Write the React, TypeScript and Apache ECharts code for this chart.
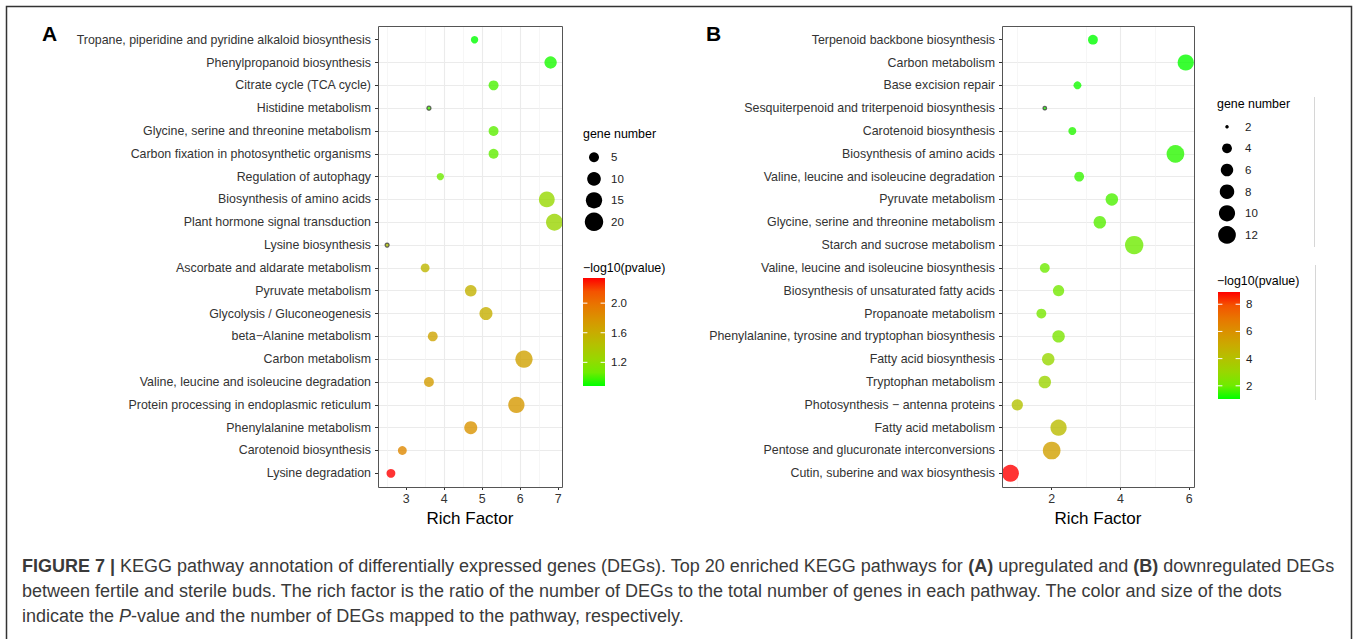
import React, { useEffect, useRef } from "react";
import * as echarts from "echarts";

const FONT = "'Liberation Sans', Arial, Helvetica, sans-serif";

// ---------- Panel A : upregulated DEGs ----------
const pathwaysA = [
  "Tropane, piperidine and pyridine alkaloid biosynthesis",
  "Phenylpropanoid biosynthesis",
  "Citrate cycle (TCA cycle)",
  "Histidine metabolism",
  "Glycine, serine and threonine metabolism",
  "Carbon fixation in photosynthetic organisms",
  "Regulation of autophagy",
  "Biosynthesis of amino acids",
  "Plant hormone signal transduction",
  "Lysine biosynthesis",
  "Ascorbate and aldarate metabolism",
  "Pyruvate metabolism",
  "Glycolysis / Gluconeogenesis",
  "beta\u2212Alanine metabolism",
  "Carbon metabolism",
  "Valine, leucine and isoleucine degradation",
  "Protein processing in endoplasmic reticulum",
  "Phenylalanine metabolism",
  "Carotenoid biosynthesis",
  "Lysine degradation",
];
const richFactorA = [4.8, 6.8, 5.3, 3.6, 5.3, 5.3, 3.9, 6.7, 6.9, 2.5, 3.5, 4.7, 5.1, 3.7, 6.1, 3.6, 5.9, 4.7, 2.9, 2.6];
const geneNumberA = [3, 8, 5, 2, 5, 5, 3, 14, 16, 2, 4, 7, 9, 5, 17, 5, 15, 9, 4, 4];
const negLog10PA = [0.88, 0.92, 1.0, 1.0, 1.03, 1.04, 1.06, 1.24, 1.26, 1.42, 1.52, 1.56, 1.58, 1.66, 1.68, 1.72, 1.75, 1.78, 1.86, 2.34];
const xTicksA = [3, 4, 5, 6, 7];
const geneBreaksA = [5, 10, 15, 20];
const colorBreaksA = [1.2, 1.6, 2.0];

// ---------- Panel B : downregulated DEGs ----------
const pathwaysB = [
  "Terpenoid backbone biosynthesis",
  "Carbon metabolism",
  "Base excision repair",
  "Sesquiterpenoid and triterpenoid biosynthesis",
  "Carotenoid biosynthesis",
  "Biosynthesis of amino acids",
  "Valine, leucine and isoleucine degradation",
  "Pyruvate metabolism",
  "Glycine, serine and threonine metabolism",
  "Starch and sucrose metabolism",
  "Valine, leucine and isoleucine biosynthesis",
  "Biosynthesis of unsaturated fatty acids",
  "Propanoate metabolism",
  "Phenylalanine, tyrosine and tryptophan biosynthesis",
  "Fatty acid biosynthesis",
  "Tryptophan metabolism",
  "Photosynthesis \u2212 antenna proteins",
  "Fatty acid metabolism",
  "Pentose and glucuronate interconversions",
  "Cutin, suberine and wax biosynthesis",
];
const richFactorB = [3.2, 5.9, 2.75, 1.8, 2.6, 5.6, 2.8, 3.75, 3.4, 4.4, 1.8, 2.2, 1.7, 2.2, 1.9, 1.8, 1.0, 2.2, 2.0, 0.8];
const geneNumberB = [4, 10, 3, 2, 3, 12, 4, 6, 6, 13, 4, 5, 4, 6, 6, 6, 5, 10, 12, 11];
const negLog10PB = [1.03, 1.1, 1.2, 1.3, 1.35, 1.4, 1.5, 1.7, 1.8, 2.0, 2.0, 2.1, 2.2, 2.3, 3.0, 3.1, 4.0, 4.3, 5.4, 8.9];
const xTicksB = [2, 4, 6];
const geneBreaksB = [2, 4, 6, 8, 10, 12];
const colorBreaksB = [2, 4, 6, 8];

// green -> red (Lab-like interpolation)
const colorRamp = ["#00FF00", "#70EB00", "#98D700", "#B3C200", "#C9AB00", "#DA9200", "#E87600", "#F45300", "#FF0000"];

const captionLines = [
  "{b|FIGURE 7 |} KEGG pathway annotation of differentially expressed genes (DEGs). Top 20 enriched KEGG pathways for {b|(A)} upregulated and {b|(B)} downregulated DEGs",
  "between fertile and sterile buds. The rich factor is the ratio of the number of DEGs to the total number of genes in each pathway. The color and size of the dots",
  "indicate the {i|P}-value and the number of DEGs mapped to the pathway, respectively.",
];

type Panel = {
  letter: string;
  letterX: number;
  grid: { left: number; top: number; width: number; height: number };
  xMin: number;
  xMax: number;
  xSplit: number;
  xTicks: number[];
  pathways: string[];
  rich: number[];
  genes: number[];
  pv: number[];
  geneBreaks: number[];
  colorBreaks: number[];
  colorDigits: number;
  gMin: number;
  gMax: number;
  dMin: number;
  dMax: number;
  leg: {
    titleX: number; titleY: number; dotX: number; dotY0: number; dotStep: number; labX: number;
    cTitleY: number; barX: number; barY: number; barW: number; barH: number; cLabX: number;
  };
};

const panels: Panel[] = [
  {
    letter: "A", letterX: 42,
    grid: { left: 378, top: 26, width: 184, height: 461 },
    xMin: 2.26, xMax: 7.1, xSplit: 5, xTicks: xTicksA,
    pathways: pathwaysA, rich: richFactorA, genes: geneNumberA, pv: negLog10PA,
    geneBreaks: geneBreaksA, colorBreaks: colorBreaksA, colorDigits: 1,
    gMin: 2, gMax: 20, dMin: 4, dMax: 18.5,
    leg: { titleX: 583, titleY: 134, dotX: 594, dotY0: 157.3, dotStep: 21.5, labX: 611,
      cTitleY: 267.7, barX: 583, barY: 278, barW: 22, barH: 108, cLabX: 611 },
  },
  {
    letter: "B", letterX: 706,
    grid: { left: 1002, top: 26, width: 192, height: 461 },
    xMin: 0.555, xMax: 6.14, xSplit: 3, xTicks: xTicksB,
    pathways: pathwaysB, rich: richFactorB, genes: geneNumberB, pv: negLog10PB,
    geneBreaks: geneBreaksB, colorBreaks: colorBreaksB, colorDigits: 0,
    gMin: 2, gMax: 13, dMin: 3.5, dMax: 18.4,
    leg: { titleX: 1217, titleY: 104, dotX: 1227, dotY0: 126.7, dotStep: 21.65, labX: 1245,
      cTitleY: 280.7, barX: 1218, barY: 292, barW: 22, barH: 107, cLabX: 1246 },
  },
];

function sizeOf(p: Panel, g: number) {
  const t = Math.max(0, (g - p.gMin) / (p.gMax - p.gMin));
  return p.dMin + (p.dMax - p.dMin) * Math.sqrt(t);
}

function pMin(p: Panel) { return Math.min(...p.pv); }
function pMax(p: Panel) { return Math.max(...p.pv); }

function buildOption() {
  const grids: any[] = [];
  const xAxes: any[] = [];
  const yAxes: any[] = [];
  const series: any[] = [];
  const visualMaps: any[] = [];
  const graphics: any[] = [];

  panels.forEach((p, k) => {
    const rowIdx = p.pathways.map((_, i) => i);
    grids.push({ ...p.grid, show: false, containLabel: false });
    xAxes.push({
      type: "value", gridIndex: k, position: "bottom", min: p.xMin, max: p.xMax, splitNumber: p.xSplit,
      name: "Rich Factor", nameLocation: "middle", nameGap: 20,
      nameTextStyle: { fontSize: 17, color: "#000", fontFamily: FONT },
      axisLine: { show: false, onZero: false },
      axisTick: { show: true, length: 3, customValues: p.xTicks, lineStyle: { color: "#333", width: 1 } },
      axisLabel: {
        fontSize: 12.4, color: "#333", fontFamily: FONT, margin: 6, customValues: p.xTicks,
        formatter: (v: number) => (Math.abs(v - Math.round(v)) < 1e-6 ? String(Math.round(v)) : ""),
      },
      splitLine: { show: true, showMinLine: false, showMaxLine: false, lineStyle: { color: "#EBEBEB", width: 1.1 } },
      minorTick: { show: false, splitNumber: 2 },
      minorSplitLine: { show: true, lineStyle: { color: "#F2F2F2", width: 0.7 } },
    });
    yAxes.push({
      type: "value", gridIndex: k, position: "left", min: -0.6, max: p.pathways.length - 0.4, splitNumber: 20, minInterval: 1,
      inverse: true,
      axisLine: { show: false, onZero: false },
      axisTick: { show: true, length: 3, customValues: rowIdx, lineStyle: { color: "#333", width: 1 } },
      axisLabel: {
        fontSize: 12.4, color: "#333", fontFamily: FONT, margin: 7, customValues: rowIdx,
        formatter: (v: number) => {
          const i = Math.round(v);
          return Math.abs(v - i) < 1e-6 && i >= 0 && i < p.pathways.length ? p.pathways[i] : "";
        },
      },
      splitLine: { show: true, showMinLine: false, showMaxLine: false, lineStyle: { color: "#EBEBEB", width: 1.1 } },
    });
    series.push({
      type: "scatter", xAxisIndex: k, yAxisIndex: k, clip: false,
      symbol: "circle",
      symbolSize: (val: number[]) => sizeOf(p, val[2]),
      data: p.pathways.map((_, i) => ({
        value: [p.rich[i], i, p.genes[i], p.pv[i]],
        itemStyle: p.genes[i] === p.gMin ? { borderColor: "#444", borderWidth: 1.3 } : { borderWidth: 0 },
      })),
      emphasis: { disabled: true },
    });
    visualMaps.push({
      type: "continuous", show: false, seriesIndex: k, dimension: 3,
      min: pMin(p), max: pMax(p), inRange: { color: colorRamp },
    });

    // panel border
    graphics.push({
      type: "rect", z: 50,
      shape: { x: p.grid.left + 0.5, y: p.grid.top + 0.5, width: p.grid.width, height: p.grid.height },
      style: { fill: "none", stroke: "#555", lineWidth: 1 },
    });
    // panel letter
    graphics.push({
      type: "text", x: p.letterX, y: 33,
      style: { text: p.letter, fontSize: 21, fontWeight: "bold", fontFamily: FONT, fill: "#000", verticalAlign: "middle" },
    });

    const L = p.leg;
    graphics.push({
      type: "text", x: L.titleX, y: L.titleY,
      style: { text: "gene number", fontSize: 12.4, fontFamily: FONT, fill: "#000", verticalAlign: "middle" },
    });
    p.geneBreaks.forEach((g, i) => {
      const cy = L.dotY0 + L.dotStep * i;
      graphics.push({ type: "circle", shape: { cx: L.dotX, cy, r: sizeOf(p, g) / 2 }, style: { fill: "#000" } });
      graphics.push({
        type: "text", x: L.labX, y: cy,
        style: { text: String(g), fontSize: 11.5, fontFamily: FONT, fill: "#222", verticalAlign: "middle" },
      });
    });
    graphics.push({
      type: "text", x: L.titleX, y: L.cTitleY,
      style: { text: "\u2212log10(pvalue)", fontSize: 12.4, fontFamily: FONT, fill: "#000", verticalAlign: "middle" },
    });
    graphics.push({
      type: "rect",
      shape: { x: L.barX, y: L.barY, width: L.barW, height: L.barH },
      style: {
        fill: new echarts.graphic.LinearGradient(0, 1, 0, 0,
          colorRamp.map((c, i) => ({ offset: i / (colorRamp.length - 1), color: c }))),
      },
    });
    const lo = pMin(p), hi = pMax(p);
    p.colorBreaks.forEach((t) => {
      const yy = L.barY + ((hi - t) / (hi - lo)) * L.barH;
      graphics.push({ type: "line", shape: { x1: L.barX, y1: yy, x2: L.barX + 4.4, y2: yy }, style: { stroke: "#fff", lineWidth: 1 } });
      graphics.push({ type: "line", shape: { x1: L.barX + L.barW - 4.4, y1: yy, x2: L.barX + L.barW, y2: yy }, style: { stroke: "#fff", lineWidth: 1 } });
      graphics.push({
        type: "text", x: L.cLabX, y: yy,
        style: { text: t.toFixed(p.colorDigits), fontSize: 11.5, fontFamily: FONT, fill: "#222", verticalAlign: "middle" },
      });
    });
  });

  // legend box edges in panel B
  graphics.push({ type: "line", shape: { x1: 1314.5, y1: 97, x2: 1314.5, y2: 247 }, style: { stroke: "#D6D6D6", lineWidth: 1 } });
  graphics.push({ type: "line", shape: { x1: 1315.5, y1: 265, x2: 1315.5, y2: 400 }, style: { stroke: "#D6D6D6", lineWidth: 1 } });

  // outer frame
  graphics.push({
    type: "rect", z: 60,
    shape: { x: 6.5, y: 6.5, width: 1345, height: 700 },
    style: { fill: "none", stroke: "#333", lineWidth: 1.5 },
  });

  // caption
  const capStyle = { fontSize: 18, fontFamily: FONT, fill: "#3a3a3a" };
  captionLines.forEach((line, i) => {
    graphics.push({
      type: "text", x: 22, y: 566 + 25 * i,
      style: {
        text: line, ...capStyle, verticalAlign: "middle",
        rich: {
          b: { ...capStyle, fontWeight: "bold" },
          i: { ...capStyle, fontStyle: "italic" },
        },
      },
    });
  });

  return {
    animation: false,
    backgroundColor: "#fff",
    grid: grids,
    xAxis: xAxes,
    yAxis: yAxes,
    visualMap: visualMaps,
    series,
    graphic: graphics,
  };
}

export default function App() {
  const ref = useRef<HTMLDivElement>(null);
  useEffect(() => {
    if (!ref.current) return;
    const chart = echarts.init(ref.current, null, { renderer: "svg" });
    chart.setOption(buildOption() as any);
    return () => chart.dispose();
  }, []);
  return <div ref={ref} style={{ position: "absolute", left: 0, top: 0, width: 1357, height: 639 }} />;
}
